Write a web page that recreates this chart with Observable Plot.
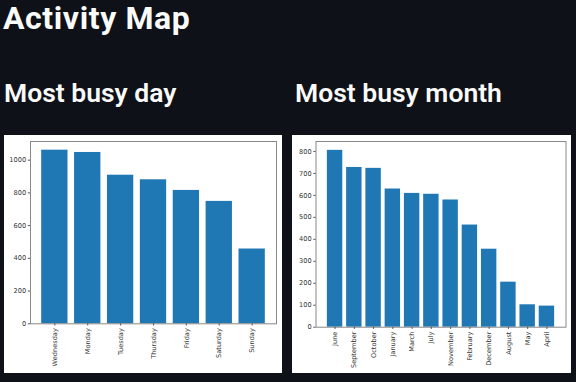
<!DOCTYPE html>
<html>
<head>
<meta charset="utf-8">
<script src="https://cdn.jsdelivr.net/npm/d3@7"></script>
<script src="https://cdn.jsdelivr.net/npm/@observablehq/plot@0.6"></script>
<style>
  html, body { margin: 0; padding: 0; background: #0e1117; width: 576px; height: 382px; overflow: hidden; }
  .t { position: absolute; color: #fafafa; font-family: Roboto, "Noto Sans", sans-serif; line-height: 1; white-space: nowrap; }
  #title { left: 3px; top: 2px; font-size: 32px; font-weight: 700; letter-spacing: 0.6px; }
  .h { top: 80px; font-size: 26.5px; font-weight: 600; }
  #h1 { left: 4px; }
  #h2 { left: 295px; }
  .chart { position: absolute; top: 135px; background: white; }
  #c1 { left: 4px; }
  #c2 { left: 292px; }
</style>
</head>
<body>
<div class="t" id="title">Activity Map</div>
<div class="t h" id="h1">Most busy day</div>
<div class="t h" id="h2">Most busy month</div>
<div class="chart" id="c1"></div>
<div class="chart" id="c2"></div>
<script>
const days = ["Wednesday", "Monday", "Tuesday", "Thursday", "Friday", "Saturday", "Sunday"];
const dayCounts = [1061, 1047, 908, 880, 815, 748, 457];
const dayTicks = [0, 200, 400, 600, 800, 1000];

const months = ["June", "September", "October", "January", "March", "July", "November", "February", "December", "August", "May", "April"];
const monthCounts = [805, 727, 723, 629, 609, 605, 579, 465, 355, 205, 102, 96];
const monthTicks = [0, 100, 200, 300, 400, 500, 600, 700, 800];

function barChart(cats, vals, ticks, opts) {
  const data = cats.map((c, i) => ({cat: c, val: vals[i]}));
  const n = cats.length;
  return Plot.plot({
    width: opts.width,
    height: 238,
    marginLeft: opts.marginLeft,
    marginRight: 5.5,
    marginTop: 6,
    marginBottom: opts.marginBottom,
    style: {background: "white", fontFamily: "DejaVu Sans, sans-serif", fontSize: "6.6px", color: "#333"},
    x: {domain: cats, paddingInner: 0.2, paddingOuter: 0.05 * (n - 0.2), round: false},
    y: {domain: [0, d3.max(vals) * 1.05]},
    marks: [
      Plot.barY(data, {x: "cat", y: "val", fill: "#1f77b4"}),
      Plot.frame({stroke: "#888", strokeWidth: 1}),
      Plot.axisY({ticks: ticks, tickFormat: d => String(d), tickSize: 2.2, tickPadding: 2.2, label: null, stroke: "#555"}),
      Plot.axisX({tickRotate: -90, tickSize: 2.2, tickPadding: 2.2, label: null, stroke: "#555"})
    ]
  });
}

document.getElementById("c1").appendChild(barChart(days, dayCounts, dayTicks, {width: 277.5, marginLeft: 26, marginBottom: 49.7}));
document.getElementById("c2").appendChild(barChart(months, monthCounts, monthTicks, {width: 279, marginLeft: 23.5, marginBottom: 46.3}));
</script>
</body>
</html>
